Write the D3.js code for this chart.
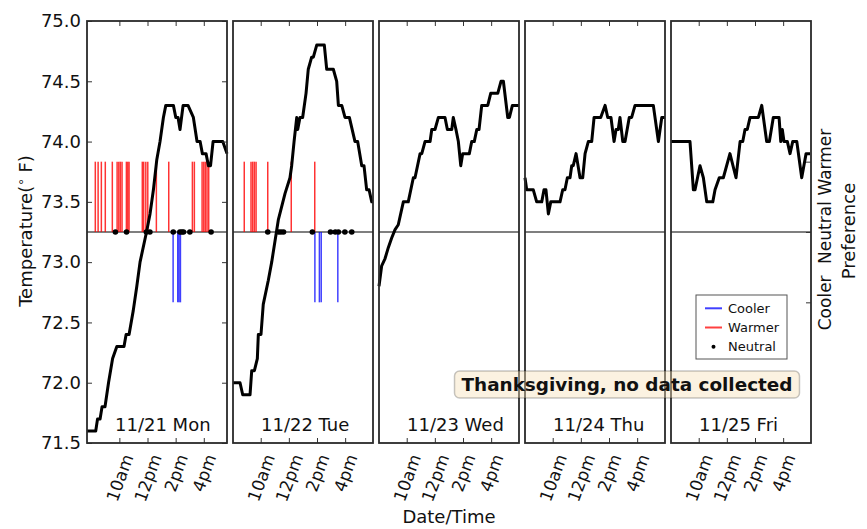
<!DOCTYPE html>
<html>
<head>
<meta charset="utf-8">
<script src="https://cdn.jsdelivr.net/npm/d3@7"></script>
<style>
  body { margin: 0; background: #fff; }
  svg { font-family: "DejaVu Sans", sans-serif; }
</style>
</head>
<body>
<div id="grafiek"></div>
<script>
// Dagen en tijd-as (uren als decimaal getal)
const dayLabels = ['11/21 Mon', '11/22 Tue', '11/23 Wed', '11/24 Thu', '11/25 Fri'];
const dayStarts = [7.70, 8.03, 8.03, 8.03, 8.03];
const dayEnds = [17.65, 17.98, 17.98, 17.98, 17.98];
const hourTicks = [10, 12, 14, 16];
const hourLabels = ['10am', '12pm', '2pm', '4pm'];
const tempTicks = [71.5, 72.0, 72.5, 73.0, 73.5, 74.0, 74.5, 75.0];
const prefTicks = [-1, 0, 1];
const prefLabels = ['Cooler', 'Neutral', 'Warmer'];
const legendLabels = ['Cooler', 'Warmer', 'Neutral'];
const noteText = 'Thanksgiving, no data collected';

// Temperatuur per dag
const monTimes = [7.70, 8.32, 8.45, 8.63, 8.77, 8.98, 9.23, 9.52, 9.82, 10.33, 10.48, 10.69, 10.99, 11.24, 11.47, 11.93, 12.18, 12.42, 12.66, 12.89, 13.13, 13.30, 13.84, 14.01, 14.17, 14.31, 14.53, 14.88, 15.26, 15.52, 15.74, 15.90, 16.16, 16.33, 16.48, 16.66, 17.35, 17.65];
const monTemps = [71.6, 71.6, 71.7, 71.7, 71.8, 71.8, 72.0, 72.2, 72.3, 72.3, 72.4, 72.4, 72.6, 72.8, 73.0, 73.25, 73.4, 73.6, 73.85, 74.0, 74.2, 74.3, 74.3, 74.2, 74.2, 74.1, 74.3, 74.3, 74.2, 74.0, 74.0, 73.9, 73.9, 73.8, 73.8, 74.0, 74.0, 73.9];
const tueTimes = [8.03, 8.53, 8.72, 9.24, 9.36, 9.55, 9.76, 9.83, 10.02, 10.18, 10.54, 10.78, 11.25, 11.73, 12.08, 12.20, 12.37, 12.56, 12.63, 12.79, 12.98, 13.22, 13.38, 13.62, 13.74, 13.98, 14.52, 14.69, 15.16, 15.40, 15.52, 15.76, 15.99, 16.30, 16.70, 16.89, 17.18, 17.34, 17.53, 17.70, 17.89, 17.98];
const tueTemps = [72.0, 72.0, 71.9, 71.9, 72.1, 72.1, 72.2, 72.4, 72.4, 72.65, 72.85, 73.0, 73.35, 73.57, 73.7, 73.8, 74.0, 74.2, 74.1, 74.2, 74.2, 74.4, 74.6, 74.7, 74.7, 74.8, 74.8, 74.6, 74.6, 74.5, 74.3, 74.3, 74.2, 74.2, 74.0, 74.0, 73.8, 73.8, 73.6, 73.6, 73.5, 73.5];
const wedTimes = [8.03, 8.22, 8.46, 8.69, 8.93, 9.17, 9.40, 9.76, 10.11, 10.47, 10.59, 10.95, 11.07, 11.30, 11.66, 11.78, 12.01, 12.25, 12.72, 12.89, 13.20, 13.31, 13.50, 13.67, 13.84, 13.98, 14.45, 14.62, 14.80, 14.98, 15.14, 15.33, 15.76, 15.97, 16.47, 16.70, 16.87, 17.18, 17.30, 17.51, 17.98];
const wedTemps = [72.8, 72.97, 73.03, 73.12, 73.2, 73.27, 73.31, 73.5, 73.5, 73.7, 73.7, 73.9, 73.9, 74.0, 74.0, 74.1, 74.1, 74.2, 74.2, 74.1, 74.1, 74.2, 74.1, 74.0, 73.8, 73.9, 73.9, 74.0, 74.0, 74.1, 74.1, 74.3, 74.3, 74.4, 74.4, 74.5, 74.5, 74.2, 74.2, 74.3, 74.3];
const thuTimes = [8.03, 8.15, 8.62, 8.86, 9.22, 9.38, 9.52, 9.69, 9.86, 10.52, 10.71, 10.87, 11.04, 11.23, 11.35, 11.46, 11.66, 11.94, 12.13, 12.30, 12.53, 12.77, 12.94, 13.41, 13.72, 13.91, 14.14, 14.36, 14.50, 14.66, 14.78, 14.98, 15.14, 15.44, 15.61, 15.85, 17.15, 17.51, 17.75, 17.98];
const thuTemps = [73.7, 73.6, 73.6, 73.5, 73.5, 73.6, 73.6, 73.4, 73.5, 73.5, 73.6, 73.6, 73.7, 73.7, 73.8, 73.8, 73.9, 73.7, 73.7, 73.9, 74.0, 74.0, 74.2, 74.2, 74.3, 74.2, 74.2, 74.0, 74.1, 74.1, 74.2, 74.0, 74.0, 74.2, 74.2, 74.3, 74.3, 74.0, 74.2, 74.2];
const friTimes = [8.03, 9.38, 9.62, 9.74, 10.09, 10.33, 10.57, 11.00, 11.16, 11.46, 11.75, 12.22, 12.65, 12.94, 13.13, 13.29, 13.45, 13.65, 14.24, 14.48, 14.83, 15.02, 15.30, 15.71, 15.83, 15.94, 16.06, 16.30, 16.49, 16.68, 16.97, 17.32, 17.63, 17.91];
const friTemps = [74.0, 74.0, 73.6, 73.6, 73.8, 73.7, 73.5, 73.5, 73.6, 73.7, 73.7, 73.9, 73.7, 74.0, 74.0, 74.1, 74.1, 74.2, 74.2, 74.3, 74.0, 74.0, 74.2, 74.2, 74.0, 74.1, 74.0, 74.0, 73.9, 74.0, 74.0, 73.7, 73.9, 73.9];

// Stemmen (tijdstippen) per voorkeur
const monWarmer = [8.29, 8.49, 8.72, 9.0, 9.50, 9.84, 9.96, 10.07, 10.19, 10.50, 10.60, 10.69, 11.63, 11.73, 11.88, 12.02, 12.63, 13.51, 15.19, 15.33, 15.88, 16.0, 16.11, 16.23, 16.35];
const monCooler = [13.82, 14.15, 14.24, 14.34];
const monNeutral = [9.72, 10.51, 11.92, 12.17, 13.83, 14.30, 14.44, 14.56, 15.01, 16.52];
const tueWarmer = [8.83, 9.31, 9.43, 9.55, 9.67, 10.5, 12.17, 13.84];
const tueCooler = [13.85, 14.17, 14.30, 15.48];
const tueNeutral = [10.50, 11.27, 11.44, 11.62, 13.67, 14.96, 15.30, 15.52, 15.98, 16.47];

const days = [
  { times: monTimes, temps: monTemps, warmer: monWarmer, cooler: monCooler, neutral: monNeutral },
  { times: tueTimes, temps: tueTemps, warmer: tueWarmer, cooler: tueCooler, neutral: tueNeutral },
  { times: wedTimes, temps: wedTemps, warmer: [], cooler: [], neutral: [] },
  { times: thuTimes, temps: thuTemps, warmer: [], cooler: [], neutral: [] },
  { times: friTimes, temps: friTemps, warmer: [], cooler: [], neutral: [] }
];

const W = 867, H = 529;
const plotTop = 21, plotBottom = 443;

const svg = d3.select('#grafiek')
  .append('svg')
  .attr('width', W)
  .attr('height', H);

const panel = d3.scaleBand()
  .domain(dayLabels)
  .range([87, 811])
  .paddingInner(6 / 146);

const y = d3.scaleLinear().domain([71.5, 75]).range([plotBottom, plotTop]);
const yPref = d3.scaleLinear().domain([-3, 3]).range([plotBottom, plotTop]);

days.forEach(function (day, i) {
  const x0 = panel(dayLabels[i]), w = panel.bandwidth();
  const x = d3.scaleLinear().domain([dayStarts[i], dayEnds[i]]).range([x0, x0 + w]);
  const g = svg.append('g');

  // neutrale lijn
  g.append('line')
    .attr('x1', x0).attr('x2', x0 + w)
    .attr('y1', yPref(0)).attr('y2', yPref(0))
    .attr('stroke', '#000').attr('stroke-width', 1.2);

  g.selectAll('line.warm')
    .data(day.warmer)
    .join('line')
    .attr('class', 'warm')
    .attr('x1', d => x(d)).attr('x2', d => x(d))
    .attr('y1', yPref(0)).attr('y2', yPref(1))
    .attr('stroke', '#ff0000').attr('stroke-opacity', 0.8).attr('stroke-width', 1.5);

  g.selectAll('line.cool')
    .data(day.cooler)
    .join('line')
    .attr('class', 'cool')
    .attr('x1', d => x(d)).attr('x2', d => x(d))
    .attr('y1', yPref(0)).attr('y2', yPref(-1))
    .attr('stroke', '#0000ff').attr('stroke-opacity', 0.75).attr('stroke-width', 1.5);

  const line = d3.line()
    .x((d, k) => x(day.times[k]))
    .y(d => y(d));

  g.append('path')
    .datum(day.temps)
    .attr('d', line)
    .attr('fill', 'none')
    .attr('stroke', '#000')
    .attr('stroke-width', 3)
    .attr('stroke-linejoin', 'round');

  g.selectAll('circle')
    .data(day.neutral)
    .join('circle')
    .attr('cx', d => x(d))
    .attr('cy', yPref(0))
    .attr('r', 2.8)
    .attr('fill', '#000');

  // dag label
  g.append('text')
    .attr('x', x0 + 28)
    .attr('y', 431)
    .attr('font-size', 18)
    .attr('fill', '#111')
    .text(dayLabels[i]);

  // x-as onder met gedraaide labels
  const xb = g.append('g')
    .attr('transform', `translate(0,${plotBottom})`)
    .call(d3.axisBottom(x).tickValues(hourTicks).tickSize(-5)
      .tickFormat((d, k) => hourLabels[k]))
    .attr('font-size', 17)
    .attr('font-family', '"DejaVu Sans", sans-serif');
  xb.select('.domain').remove();
  xb.selectAll('line').attr('stroke', '#333');
  xb.selectAll('text')
    .attr('fill', '#111')
    .attr('text-anchor', 'end')
    .attr('x', 0).attr('y', 0)
    .attr('dy', '0.35em')
    .each(function () {
      const tw = this.getComputedTextLength();
      d3.select(this).attr('transform', `translate(${0.171 * tw},12) rotate(-70)`);
    });

  const xt = g.append('g')
    .attr('transform', `translate(0,${plotTop})`)
    .call(d3.axisTop(x).tickValues(hourTicks).tickSize(-5).tickFormat(''));
  xt.select('.domain').remove();
  xt.selectAll('line').attr('stroke', '#333');

  if (i === 0) {
    const yl = g.append('g')
      .attr('transform', `translate(${x0},0)`)
      .call(d3.axisLeft(y).tickValues(tempTicks).tickSize(-5).tickPadding(6)
        .tickFormat(d3.format('.1f')))
      .attr('font-size', 18)
      .attr('font-family', '"DejaVu Sans", sans-serif');
    yl.select('.domain').remove();
    yl.selectAll('line').attr('stroke', '#333');
    yl.selectAll('text').attr('fill', '#111');

    const yr = g.append('g')
      .attr('transform', `translate(${x0 + w},0)`)
      .call(d3.axisRight(y).tickValues(tempTicks).tickSize(-5).tickFormat(''));
    yr.select('.domain').remove();
    yr.selectAll('line').attr('stroke', '#333');
  }

  if (i === days.length - 1) {
    const pr = g.append('g')
      .attr('transform', `translate(${x0 + w},0)`)
      .call(d3.axisRight(yPref).tickValues(prefTicks).tickSize(-5)
        .tickFormat((d, k) => prefLabels[k]))
      .attr('font-size', 17)
      .attr('font-family', '"DejaVu Sans", sans-serif');
    pr.select('.domain').remove();
    pr.selectAll('line').attr('stroke', '#333');
    pr.selectAll('text')
      .attr('fill', '#111')
      .attr('text-anchor', 'middle')
      .attr('x', 0).attr('y', 0)
      .attr('dy', '0.35em')
      .attr('transform', 'translate(14,0) rotate(-90)');
  }

  // kader
  g.append('rect')
    .attr('x', x0).attr('y', plotTop)
    .attr('width', w).attr('height', plotBottom - plotTop)
    .attr('fill', 'none')
    .attr('stroke', '#2a2a2a')
    .attr('stroke-width', 1.8);
});

// as-titels
svg.append('text')
  .attr('transform', 'translate(32,231) rotate(-90)')
  .attr('text-anchor', 'middle')
  .attr('font-size', 18)
  .attr('fill', '#111')
  .call(t => {
    t.append('tspan').text('Temperature(');
    t.append('tspan').attr('dy', -7).attr('font-size', 12).text('\u2218');
    t.append('tspan').attr('dy', 7).text(' F)');
  });

svg.append('text')
  .attr('transform', 'translate(855,231) rotate(-90)')
  .attr('text-anchor', 'middle')
  .attr('font-size', 18)
  .attr('fill', '#111')
  .text('Preference');

svg.append('text')
  .attr('x', panel(dayLabels[2]) + panel.bandwidth() / 2)
  .attr('y', 523)
  .attr('text-anchor', 'middle')
  .attr('font-size', 18)
  .attr('fill', '#111')
  .text('Date/Time');

// legenda
const legend = svg.append('g').attr('transform', 'translate(696,295)');
legend.append('rect')
  .attr('width', 91).attr('height', 64)
  .attr('fill', '#fff')
  .attr('stroke', '#555')
  .attr('stroke-width', 1);
const legendColors = ['#0000ff', '#ff0000', '#000'];
legendLabels.forEach(function (lab, k) {
  const ly = 13.3 + k * 19.2;
  if (lab === 'Neutral') {
    legend.append('circle').attr('cx', 17.5).attr('cy', ly).attr('r', 2).attr('fill', '#000');
  } else {
    legend.append('line')
      .attr('x1', 9).attr('x2', 26).attr('y1', ly).attr('y2', ly)
      .attr('stroke', legendColors[k]).attr('stroke-opacity', 0.75).attr('stroke-width', 2);
  }
  legend.append('text')
    .attr('x', 32).attr('y', ly).attr('dy', '0.35em')
    .attr('font-size', 13)
    .attr('fill', '#111')
    .text(lab);
});

// notitie
const note = svg.append('g');
const nt = note.append('text')
  .attr('x', 627).attr('y', 391)
  .attr('text-anchor', 'middle')
  .attr('font-size', 18.4)
  .attr('font-weight', 'bold')
  .attr('fill', '#111')
  .text(noteText);
const bb = nt.node().getBBox();
note.insert('rect', 'text')
  .attr('x', bb.x - 7).attr('y', bb.y - 3)
  .attr('width', bb.width + 14).attr('height', bb.height + 6)
  .attr('rx', 5)
  .attr('fill', '#f5deb3').attr('fill-opacity', 0.4)
  .attr('stroke', '#000').attr('stroke-opacity', 0.22)
  .attr('stroke-width', 1.5);
</script>
</body>
</html>
